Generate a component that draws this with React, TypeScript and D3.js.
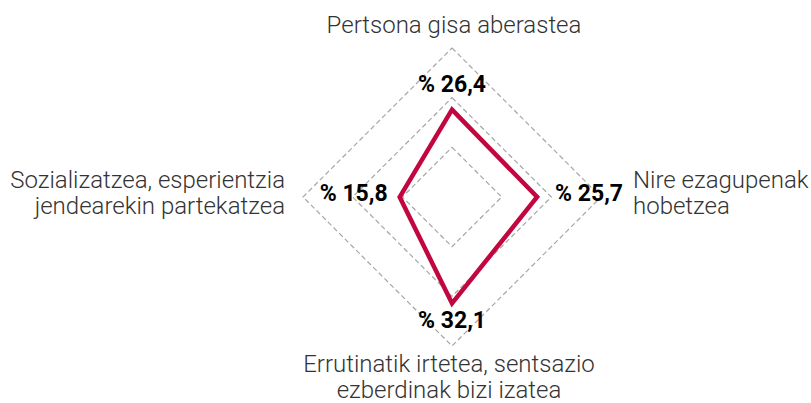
import React from "react";
import * as d3 from "d3";

const categories = [
  ["Pertsona gisa aberastea"],
  ["Nire ezagupenak", "hobetzea"],
  ["Errutinatik irtetea, sentsazio", "ezberdinak bizi izatea"],
  ["Sozializatzea, esperientzia", "jendearekin partekatzea"],
];
const values = [26.4, 25.7, 32.1, 15.8];
const valueLabels = ["% 26,4", "% 25,7", "% 32,1", "% 15,8"];
const gridLevels = [15, 30, 45];

const W = 811;
const H = 403;
const cx = 452;
const cy = 197;

export default function App() {
  const r = d3.scaleLinear().domain([0, 45]).range([0, 149]);
  const angle = (i: number) => (i * Math.PI) / 2; // 0 = top, clockwise
  const pt = (i: number, v: number): [number, number] => [
    cx + Math.sin(angle(i)) * r(v),
    cy - Math.cos(angle(i)) * r(v),
  ];
  const line = d3.line<[number, number]>().curve(d3.curveLinearClosed);

  const gridPaths = gridLevels.map((lv) =>
    line(categories.map((_, i) => pt(i, lv)))
  );
  const dataPath = line(values.map((v, i) => pt(i, v)));

  const valueText = values.map((v, i) => {
    const [x, y] = pt(i, v);
    if (i === 0) return { x, y: y - 18, anchor: "middle" };
    if (i === 1) return { x: x + 18, y: 201, anchor: "start" };
    if (i === 2) return { x, y: y + 25, anchor: "middle" };
    return { x: x - 12, y: 201, anchor: "end" };
  });

  const axisLabelPos = [
    { x: 454, y: 33, anchor: "middle" },
    { x: 633, y: 188, anchor: "start" },
    { x: 449, y: 372, anchor: "middle" },
    { x: 285, y: 188, anchor: "end" },
  ];
  const lineH = 25.5;

  return (
    <svg
      width={W}
      height={H}
      style={{ position: "absolute", left: 0, top: 0, display: "block" }}
    >
      <rect width={W} height={H} fill="#fff" />
      {gridPaths.map((d, i) => (
        <path
          key={i}
          d={d || ""}
          fill="none"
          stroke="#a6a6a6"
          strokeWidth={1.2}
          strokeDasharray="5 3"
        />
      ))}
      <path
        d={dataPath || ""}
        fill="none"
        stroke="#c2063f"
        strokeWidth={4.5}
        strokeLinejoin="miter"
      />
      {valueText.map((t, i) => (
        <text
          key={i}
          x={t.x}
          y={t.y}
          textAnchor={t.anchor as any}
          fontFamily="Roboto"
          fontWeight={700}
          fontSize={23}
          fill="#000"
        >
          {valueLabels[i]}
        </text>
      ))}
      {categories.map((lines, i) => (
        <text
          key={i}
          x={axisLabelPos[i].x}
          y={axisLabelPos[i].y}
          textAnchor={axisLabelPos[i].anchor as any}
          fontFamily="Roboto"
          fontWeight={300}
          fontSize={24}
          fill="#333"
        >
          {lines.map((l, j) => (
            <tspan key={j} x={axisLabelPos[i].x} dy={j === 0 ? 0 : lineH}>
              {l}
            </tspan>
          ))}
        </text>
      ))}
    </svg>
  );
}
